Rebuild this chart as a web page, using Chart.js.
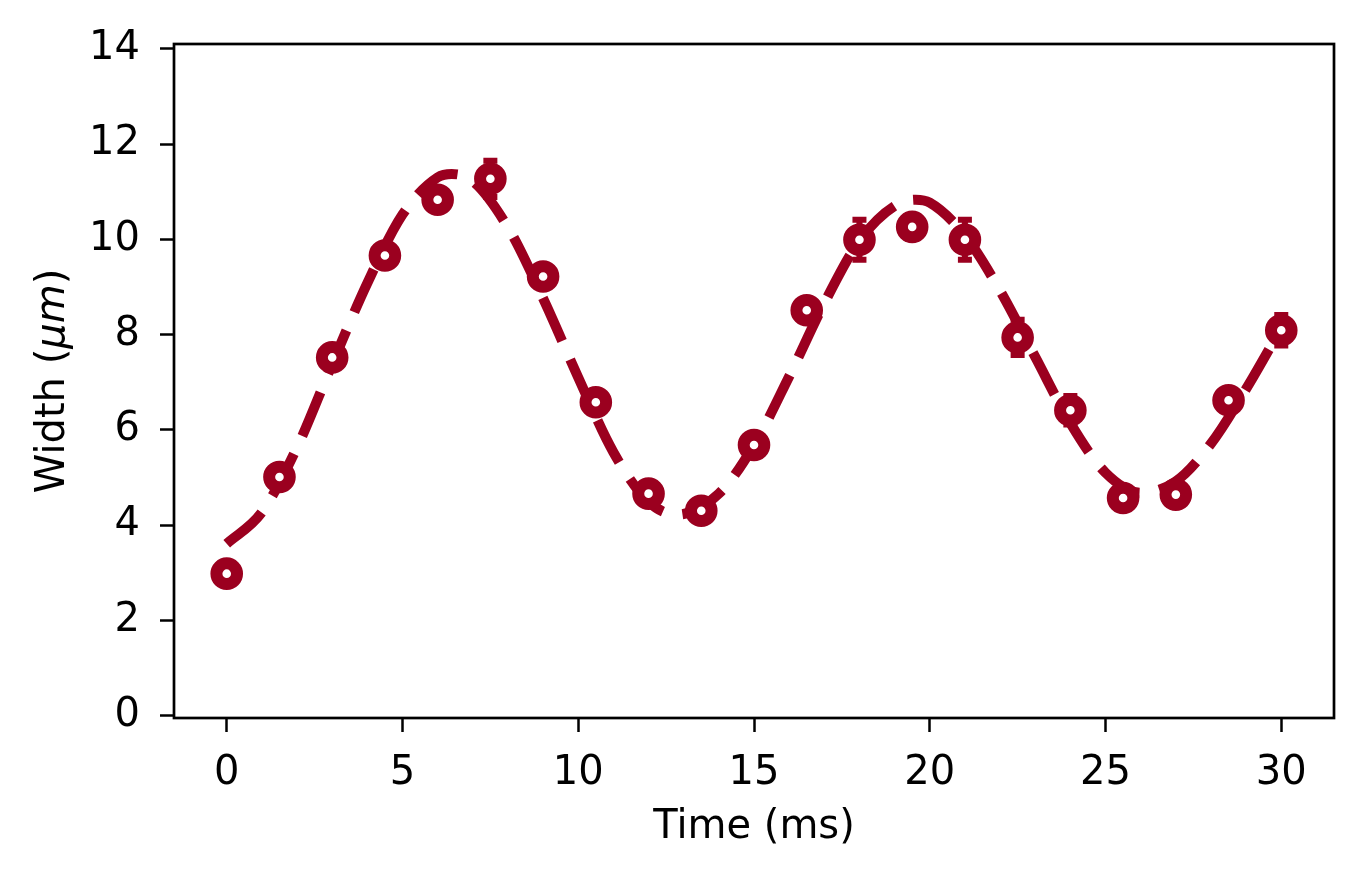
<!DOCTYPE html>
<html>
<head>
<meta charset="utf-8">
<script src="https://cdn.jsdelivr.net/npm/chart.js@4.4.0/dist/chart.umd.min.js"></script>
<style>
    html, body { margin: 0; padding: 0; background: #fff; }
    #wrap { width: 1365px; height: 876px; }
</style>
</head>
<body>
<div id="wrap"><canvas id="widthChart"></canvas></div>
<script>
// Measured widths
const timeMs = [0, 1.5, 3, 4.5, 6, 7.5, 9, 10.5, 12, 13.5, 15, 16.5, 18, 19.5, 21, 22.5, 24, 25.5, 27, 28.5, 30];
const widthUm = [2.98, 5.01, 7.52, 9.66, 10.83, 11.27, 9.22, 6.58, 4.66, 4.30, 5.68, 8.51, 9.99, 10.26, 9.99, 7.94, 6.41, 4.57, 4.64, 6.62, 8.09];
const widthErr = [0.15, 0.2, 0.2, 0.2, 0.2, 0.38, 0.2, 0.2, 0.2, 0.2, 0.2, 0.2, 0.42, 0.25, 0.42, 0.37, 0.3, 0.2, 0.2, 0.2, 0.32];

// Fitted curve
const fitTime = [0, 1, 2, 3, 4, 5, 6, 6.4, 7, 8, 9, 10, 11, 12, 12.8, 14, 15, 16, 17, 18, 19, 19.6, 20, 21, 22, 23, 24, 25, 26, 27, 28, 29, 30];
const fitWidth = [3.61, 4.27, 5.63, 7.38, 9.08, 10.52, 11.30, 11.37, 11.22, 10.25, 8.76, 7.10, 5.53, 4.49, 4.22, 4.66, 5.68, 7.12, 8.66, 9.97, 10.70, 10.83, 10.77, 10.08, 8.92, 7.53, 6.14, 5.10, 4.68, 4.92, 5.71, 6.86, 8.14];

const xTicks = [0, 5, 10, 15, 20, 25, 30];
const yTicks = [0, 2, 4, 6, 8, 10, 12, 14];

const dataColor = '#9b001f';
const fontFamily = '"DejaVu Sans", Verdana, sans-serif';

Chart.defaults.font.family = fontFamily;
Chart.defaults.color = '#000';

// Error bars drawn just before the marker dataset, so the rings sit on top
const errorBars = {
    id: 'errorBars',
    beforeDatasetDraw(chart, args) {
        if (args.index !== 0) return;
        const ctx = chart.ctx;
        const xs = chart.scales.x;
        const ys = chart.scales.y;
        ctx.save();
        ctx.strokeStyle = dataColor;
        ctx.lineWidth = 6;
        ctx.lineCap = 'butt';
        timeMs.forEach(function(t, i) {
            const px = xs.getPixelForValue(t);
            const top = ys.getPixelForValue(widthUm[i] + widthErr[i]);
            const bot = ys.getPixelForValue(widthUm[i] - widthErr[i]);
            ctx.beginPath();
            ctx.moveTo(px, top);
            ctx.lineTo(px, bot);
            ctx.moveTo(px - 7, top);
            ctx.lineTo(px + 7, top);
            ctx.moveTo(px - 7, bot);
            ctx.lineTo(px + 7, bot);
            ctx.stroke();
        });
        ctx.restore();
    }
};

// Box frame and the y title with italic unit
const frame = {
    id: 'frame',
    afterDraw(chart) {
        const ctx = chart.ctx;
        const a = chart.chartArea;
        ctx.save();
        ctx.strokeStyle = '#000';
        ctx.lineWidth = 2.7;
        ctx.strokeRect(a.left, a.top, a.right - a.left, a.bottom - a.top);

        const parts = [
            { text: 'Width (', font: '40px ' + fontFamily },
            { text: '\u03bcm', font: 'italic 40px ' + fontFamily },
            { text: ')', font: '40px ' + fontFamily }
        ];
        let total = 0;
        parts.forEach(function(p) {
            ctx.font = p.font;
            p.w = ctx.measureText(p.text).width;
            total += p.w;
        });
        ctx.translate(64, (a.top + a.bottom) / 2);
        ctx.rotate(-Math.PI / 2);
        ctx.fillStyle = '#000';
        ctx.textBaseline = 'alphabetic';
        ctx.textAlign = 'left';
        let x = -total / 2;
        parts.forEach(function(p) {
            ctx.font = p.font;
            ctx.fillText(p.text, x, 0);
            x += p.w;
        });
        ctx.restore();
    }
};

const ctx = document.getElementById('widthChart');
new Chart(ctx, {
    type: 'line',
    data: {
        datasets: [{
            label: 'Measured',
            data: timeMs.map((t, i) => ({ x: t, y: widthUm[i] })),
            showLine: false,
            pointRadius: 10.3,
            pointHoverRadius: 10.3,
            pointBorderWidth: 12,
            pointBorderColor: dataColor,
            pointBackgroundColor: '#fff',
            order: 1
        }, {
            label: 'Fit',
            data: fitTime.map((t, i) => ({ x: t, y: fitWidth[i] })),
            borderColor: dataColor,
            borderWidth: 10,
            borderDash: [47, 20],
            borderCapStyle: 'butt',
            cubicInterpolationMode: 'monotone',
            pointRadius: 0,
            fill: false,
            order: 2
        }]
    },
    options: {
        responsive: true,
        maintainAspectRatio: false,
        animation: false,
        events: [],
        layout: {
            padding: { top: 42, right: 31, left: 0, bottom: 0 }
        },
        scales: {
            x: {
                type: 'linear',
                min: -1.5,
                max: 31.5,
                afterBuildTicks: function(scale) {
                    scale.ticks = xTicks.map(v => ({ value: v }));
                },
                afterFit: function(scale) {
                    scale.height = 158;
                },
                border: { display: false },
                grid: {
                    drawOnChartArea: false,
                    drawTicks: true,
                    tickLength: 14,
                    tickWidth: 2.5,
                    tickColor: '#000'
                },
                ticks: {
                    color: '#000',
                    padding: 18,
                    maxRotation: 0,
                    font: { size: 40 }
                },
                title: {
                    display: true,
                    text: 'Time (ms)',
                    color: '#000',
                    font: { size: 40 },
                    padding: { top: 0, bottom: 24 }
                }
            },
            y: {
                type: 'linear',
                min: -0.05,
                max: 14.1,
                afterBuildTicks: function(scale) {
                    scale.ticks = yTicks.map(v => ({ value: v }));
                },
                afterFit: function(scale) {
                    scale.width = 174;
                },
                border: { display: false },
                grid: {
                    drawOnChartArea: false,
                    drawTicks: true,
                    tickLength: 14,
                    tickWidth: 2.5,
                    tickColor: '#000'
                },
                ticks: {
                    color: '#000',
                    padding: 20,
                    font: { size: 40 }
                }
            }
        },
        plugins: {
            legend: { display: false },
            tooltip: { enabled: false },
            title: { display: false }
        }
    },
    plugins: [errorBars, frame]
});
</script>
</body>
</html>
